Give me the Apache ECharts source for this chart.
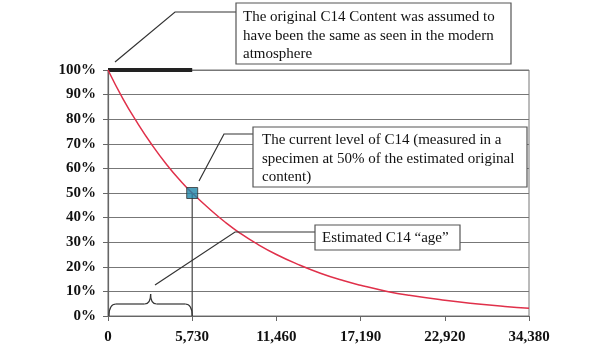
<!DOCTYPE html>
<html>
<head>
<meta charset="utf-8">
<script src="https://cdn.jsdelivr.net/npm/echarts@6/dist/echarts.min.js"></script>
<style>html,body{margin:0;padding:0;background:#fff;}#c{width:600px;height:353px;}</style>
</head>
<body>
<div id="c"></div>
<script>
// Data
const ages = [0, 1000, 2000, 3000, 4000, 5000, 5730, 7000, 8000, 9000, 10000, 11460, 13000, 14500, 16000, 17190, 19000, 20500, 22920, 25000, 27000, 28650];
const c14Percent = [100, 88.5, 78.5, 69.5, 61.5, 54.5, 50, 43, 38, 33.6, 29.8, 25, 20.8, 17.3, 14.4, 12.5, 10, 8.4, 6.4, 5, 3.9, 3.2];
const xTickLabels = ['0', '5,730', '11,460', '17,190', '22,920', '34,380'];
const halfLife = 5730;
const measuredPoint = [5730, 50];
const originalLevel = [[0, 100], [5730, 100]];
const notes = [
  'The original C14 Content was assumed to\nhave been the same as seen in the modern\natmosphere',
  'The current level of C14 (measured in a\nspecimen at 50% of the estimated original\ncontent)',
  'Estimated C14 \u201cage\u201d'
];

const serif = '"Liberation Serif", "DejaVu Serif", serif';
const chart = echarts.init(document.getElementById('c'));
const curve = ages.map((a, i) => [a, c14Percent[i]]);

chart.setOption({
  animation: false,
  backgroundColor: '#fff',
  grid: { left: 108, right: 71, top: 70, bottom: 37, show: true, borderColor: '#777', borderWidth: 1 },
  xAxis: {
    type: 'value', min: 0, max: halfLife * 5, interval: halfLife,
    axisLine: { show: true, lineStyle: { color: '#666', width: 1.2 } },
    axisTick: { show: true, length: 5, lineStyle: { color: '#666' } },
    splitLine: { show: false },
    axisLabel: {
      margin: 14, color: '#111', fontFamily: serif, fontSize: 15, fontWeight: 'bold',
      formatter: v => xTickLabels[Math.round(v / halfLife)]
    }
  },
  yAxis: {
    type: 'value', min: 0, max: 100, interval: 10,
    axisLine: { show: true, lineStyle: { color: '#666', width: 1.2 } },
    axisTick: { show: true, length: 5, lineStyle: { color: '#666' } },
    splitLine: { show: true, lineStyle: { color: '#777', width: 1.2 } },
    axisLabel: { margin: 12, color: '#111', fontFamily: serif, fontSize: 15, fontWeight: 'bold', formatter: '{value}%' }
  },
  series: [
    {
      type: 'line', data: originalLevel, symbol: 'none',
      lineStyle: { color: '#222', width: 4 }, z: 3
    },
    {
      type: 'line', data: curve, smooth: true, symbol: 'none',
      lineStyle: { color: '#e0304a', width: 1.5 }, z: 4
    },
    {
      type: 'line', data: [measuredPoint, [measuredPoint[0], 0]], symbol: 'none',
      lineStyle: { color: '#444', width: 1.2 }, z: 2
    },
    {
      type: 'scatter', data: [measuredPoint], symbol: 'rect', symbolSize: 11,
      itemStyle: { color: '#1f86a9', borderColor: '#333', borderWidth: 1 }, z: 5
    }
  ]
});

const p0 = chart.convertToPixel({ gridIndex: 0 }, [0, 0]);
const p1 = chart.convertToPixel({ gridIndex: 0 }, [halfLife, 0]);
const x0 = p0[0] + 1, x1 = p1[0], yb = p0[1], yt = yb - 12, mid = (x0 + x1) / 2;
const ls = { stroke: '#333', lineWidth: 1.2, fill: null };
const textStyle = (t, x, y) => ({ type: 'text', x: x, y: y, z: 20,
  style: { text: t, font: '15px ' + serif, fill: '#111', lineHeight: 18.5 } });
const box = (x, y, w, h) => ({ type: 'rect', z: 19, shape: { x: x, y: y, width: w, height: h },
  style: { fill: '#fff', stroke: '#555', lineWidth: 1.2 } });
const pl = pts => ({ type: 'polyline', z: 18, shape: { points: pts }, style: ls });
const qc = (ax, ay, cx, cy, bx, by) => ({ type: 'bezierCurve', z: 18,
  shape: { x1: ax, y1: ay, cpx1: cx, cpy1: cy, x2: bx, y2: by }, style: ls });

chart.setOption({
  graphic: [
    pl([[115, 62], [175, 12], [236, 12]]),
    box(236, 3, 275, 61), textStyle(notes[0], 243, 8),
    pl([[199, 181], [224, 134], [253, 134]]),
    box(253, 127, 274, 60), textStyle(notes[1], 262, 131),
    pl([[155, 285], [235, 232], [315, 232]]),
    box(315, 225, 145, 25), textStyle(notes[2], 322, 229),
    qc(x0, yb, x0, yt, x0 + 7, yt),
    pl([[x0 + 7, yt], [mid - 6, yt]]),
    qc(mid - 6, yt, mid, yt, mid, yt - 10),
    qc(mid, yt - 10, mid, yt, mid + 6, yt),
    pl([[mid + 6, yt], [x1 - 7, yt]]),
    qc(x1 - 7, yt, x1, yt, x1, yb)
  ]
});
</script>
</body>
</html>
